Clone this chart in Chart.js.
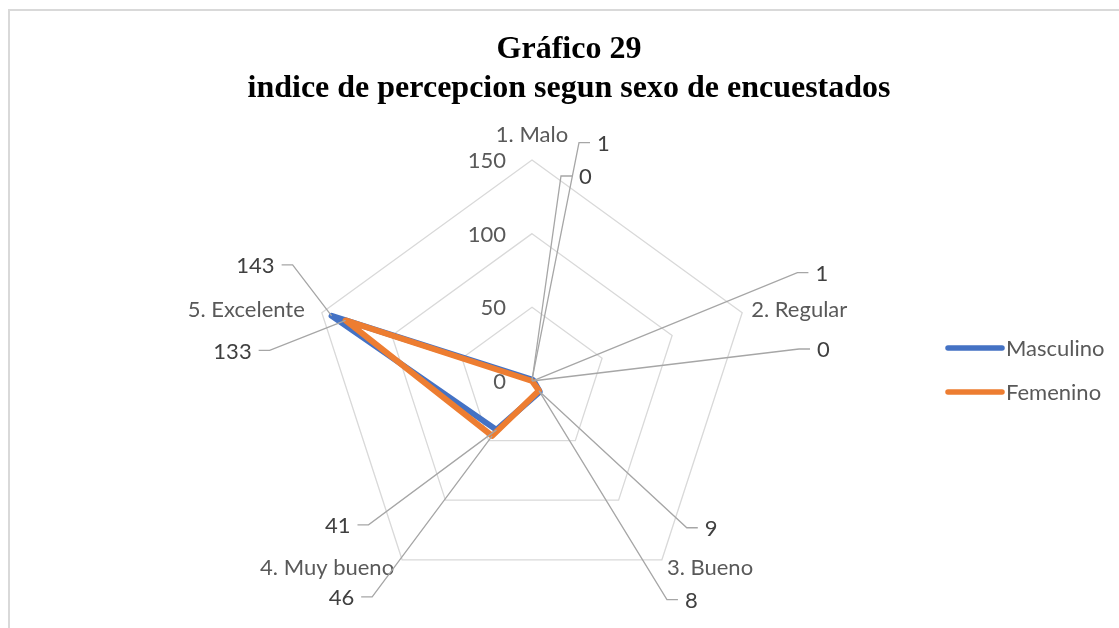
<!DOCTYPE html>
<html>
<head>
<meta charset="utf-8">
<script src="https://cdn.jsdelivr.net/npm/chart.js@4.4.1/dist/chart.umd.min.js"></script>
<style>
  html, body { margin: 0; padding: 0; background: #ffffff; overflow: hidden; width: 1119px; height: 628px; }
  #frame { position: absolute; left: 8px; top: 9px; width: 2000px; height: 2000px;
           border-left: 2px solid #d9d9d9; border-top: 2px solid #d9d9d9; z-index: 0; }
  #c { position: absolute; left: 0; top: 0; z-index: 1; }
</style>
</head>
<body>
<div id="frame"></div>
<canvas id="c" width="1119" height="628"></canvas>
<script>
// ---- data ----
const categories = ['1. Malo', '2. Regular', '3. Bueno', '4. Muy bueno', '5. Excelente'];
const masculino = [1, 1, 9, 41, 143];
const femenino = [0, 0, 8, 46, 133];
const tickValues = [0, 50, 100, 150];
const seriesNames = ['Masculino', 'Femenino'];

// ---- label placement (style only: elbow offset from data point, side) ----
const labelPlacement = [
  [ {dx: 47, dy: -237, side: 'r'}, {dx: 264, dy: -108, side: 'r'}, {dx: 147, dy: 136, side: 'r'},
    {dx: -128, dy: 95, side: 'l'}, {dx: -39, dy: -51, side: 'l'} ],
  [ {dx: 29, dy: -205, side: 'r'}, {dx: 267, dy: -32, side: 'r'}, {dx: 128, dy: 209, side: 'r'},
    {dx: -120, dy: 161, side: 'l'}, {dx: -76, dy: 30, side: 'l'} ]
];
const pointLabelPlacement = [
  {dx: 0, dy: -25, align: 'center'},
  {dx: 9, dy: -3, align: 'left'},
  {dx: 5, dy: 8, align: 'left'},
  {dx: -8, dy: 8, align: 'right'},
  {dx: -17, dy: -3, align: 'right'}
];

const FONT = 'Lato, "Open Sans", sans-serif';
const TEXT_GREY = '#595959';

const overlayPlugin = {
  id: 'overlay',
  afterDatasetsDraw(chart) {
    const ctx = chart.ctx;
    const scale = chart.scales.r;
    ctx.save();
    ctx.font = '22px ' + FONT;
    // tick labels
    ctx.fillStyle = TEXT_GREY;
    ctx.textAlign = 'right';
    ctx.textBaseline = 'middle';
    tickValues.forEach(v => {
      const d = scale.getDistanceFromCenterForValue(v);
      ctx.fillText(String(v), scale.xCenter - 26, scale.yCenter - d + 1);
    });
    // point labels
    categories.forEach((lab, i) => {
      const p = scale.getPointPositionForValue(i, scale.max);
      const pl = pointLabelPlacement[i];
      ctx.textAlign = pl.align;
      ctx.fillText(lab, p.x + pl.dx, p.y + pl.dy);
    });
    // data labels with leader lines
    chart.data.datasets.forEach((ds, di) => {
      ds.data.forEach((v, i) => {
        const p = scale.getPointPositionForValue(i, v);
        const pl = labelPlacement[di][i];
        const ex = p.x + pl.dx, ey = p.y + pl.dy;
        const sgn = pl.side === 'r' ? 1 : -1;
        const endX = ex + sgn * 11;
        ctx.strokeStyle = '#a6a6a6';
        ctx.lineWidth = 1.3;
        ctx.beginPath();
        ctx.moveTo(p.x, p.y);
        ctx.lineTo(ex, ey);
        ctx.lineTo(endX, ey);
        ctx.stroke();
        ctx.fillStyle = '#404040';
        ctx.textAlign = pl.side === 'r' ? 'left' : 'right';
        ctx.fillText(String(v), endX + sgn * 7, ey + 1);
      });
    });
    // legend (from datasets)
    chart.data.datasets.forEach((ds, di) => {
      const y = 348 + di * 44;
      ctx.strokeStyle = ds.borderColor;
      ctx.lineWidth = 5.5;
      ctx.lineCap = 'round';
      ctx.beginPath();
      ctx.moveTo(948, y);
      ctx.lineTo(1002, y);
      ctx.stroke();
      ctx.fillStyle = TEXT_GREY;
      ctx.textAlign = 'left';
      ctx.fillText(ds.label, 1006, y + 1);
    });
    ctx.restore();
  }
};

new Chart(document.getElementById('c'), {
  type: 'radar',
  data: {
    labels: categories,
    datasets: [
      { label: seriesNames[0], data: masculino, borderColor: '#4472C4', backgroundColor: '#4472C4',
        borderWidth: 6, pointRadius: 0, fill: false, order: 1,
        borderCapStyle: 'round', borderJoinStyle: 'round' },
      { label: seriesNames[1], data: femenino, borderColor: '#ED7D31', backgroundColor: '#ED7D31',
        borderWidth: 6, pointRadius: 0, fill: false, order: 0,
        borderCapStyle: 'round', borderJoinStyle: 'round' }
    ]
  },
  options: {
    responsive: false,
    animation: false,
    layout: { padding: { left: 19, right: 0, top: 0, bottom: 0 } },
    elements: { line: { tension: 0 } },
    scales: {
      r: {
        min: 0, max: 150,
        ticks: { stepSize: 50, display: false },
        grid: { color: '#d9d9d9', lineWidth: 1.3 },
        angleLines: { display: false },
        pointLabels: { display: false },
        afterFit(s) { s.xCenter = 532; s.yCenter = 381; s.drawingArea = 221; }
      }
    },
    plugins: {
      title: {
        display: true,
        text: ['Gráfico 29', 'indice de percepcion segun sexo de encuestados'],
        color: '#000000',
        font: { family: '"Liberation Serif", "Times New Roman", serif', size: 32, weight: 'bold', lineHeight: 1.2 },
        padding: { top: 31, bottom: 10 }
      },
      legend: { display: false },
      tooltip: { enabled: false }
    }
  },
  plugins: [overlayPlugin]
});
</script>
</body>
</html>
